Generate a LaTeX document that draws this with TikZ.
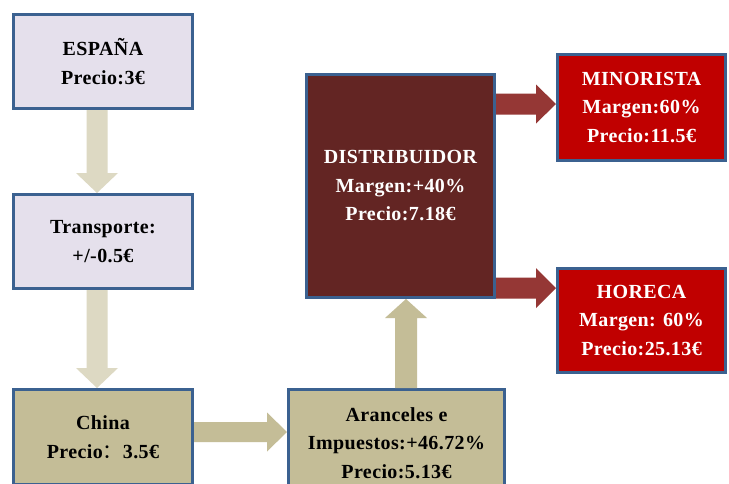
\documentclass[tikz,border=0pt]{standalone}
\usepackage{fontspec}
\setmainfont{Liberation Serif}[LetterSpace=2]
\newfontfamily\cjk{Noto Sans CJK SC}
\usetikzlibrary{calc}
\definecolor{bordc}{HTML}{3B6190}
\definecolor{lavfill}{HTML}{E5E0EC}
\definecolor{tanfill}{HTML}{C4BD97}
\definecolor{lighttan}{HTML}{DDD9C3}
\definecolor{darkred}{HTML}{632523}
\definecolor{brightred}{HTML}{C00000}
\definecolor{arrowred}{HTML}{953735}
\newcommand{\blockarrow}[6]{%
  \coordinate (ba) at ($(#3)!#6!(#2)$);
  \fill[#1] ($(#2)!#4!90:(#3)$) -- ($(ba)!#4!90:(#3)$) -- ($(ba)!#5!90:(#3)$) -- (#3)
    -- ($(ba)!#5!-90:(#3)$) -- ($(ba)!#4!-90:(#3)$) -- ($(#2)!#4!-90:(#3)$) -- cycle;}
\tikzset{
  box/.style={draw=bordc, line width=3pt, inner sep=0pt, align=center,
    font=\bfseries\fontsize{20}{28.5}\selectfont},
  lavbox/.style={box, fill=lavfill, text=black},
  tanbox/.style={box, fill=tanfill, text=black},
  darkbox/.style={box, fill=darkred, text=white},
  retailbox/.style={box, fill=brightred, text=white},
}
\begin{document}
\begin{tikzpicture}[x=1pt,y=-1pt]
\clip (0,0) rectangle (729,483);
\fill[white] (0,0) rectangle (729,483);
\node[lavbox, minimum width=179pt, minimum height=94pt] (esp) at (103,61.5) {ESPAÑA\\Precio:3€};
\node[lavbox, minimum width=179pt, minimum height=94pt] (tra) at (103,241.5) {Transporte:\\+/-0.5€};
\node[tanbox, minimum width=179pt, minimum height=95pt] (chi) at (103,437) {China\\Precio{\cjk\mdseries ：}3.5€};
\node[tanbox, minimum width=216pt, minimum height=107pt] (ara) at (396.5,443) {Aranceles e\\Impuestos:+46.72\%\\Precio:5.13€};
\node[darkbox, minimum width=188pt, minimum height=223pt] (dis) at (400.5,186) {DISTRIBUIDOR\\Margen:+40\%\\Precio:7.18€};
\node[retailbox, minimum width=168pt, minimum height=106pt] (min) at (641.5,107.5) {MINORISTA\\Margen:60\%\\Precio:11.5€};
\node[retailbox, minimum width=168pt, minimum height=104pt] (hor) at (641.5,320.5) {HORECA\\Margen: 60\%\\Precio:25.13€};
\coordinate (ax) at (97,0);
\coordinate (ay) at (0,432);
\coordinate (ux) at (406,0);
\coordinate (r1) at (0,104);
\coordinate (r2) at (0,288);
\coordinate (a1s) at (esp.south -| ax);
\coordinate (a1e) at (tra.north -| ax);
\coordinate (a2s) at (tra.south -| ax);
\coordinate (a2e) at (chi.north -| ax);
\coordinate (a3s) at (chi.east |- ay);
\coordinate (a3e) at (ara.west |- ay);
\coordinate (a4s) at (ara.north -| ux);
\coordinate (a4e) at (dis.south -| ux);
\coordinate (a5s) at (dis.east |- r1);
\coordinate (a5e) at (min.west |- r1);
\coordinate (a6s) at (dis.east |- r2);
\coordinate (a6e) at (hor.west |- r2);
\blockarrow{lighttan}{a1s}{a1e}{10.5pt}{21pt}{20pt}
\blockarrow{lighttan}{a2s}{a2e}{10.5pt}{21pt}{20pt}
\blockarrow{tanfill}{a3s}{a3e}{10pt}{19.5pt}{20pt}
\blockarrow{tanfill}{a4s}{a4e}{11pt}{21pt}{19pt}
\blockarrow{arrowred}{a5s}{a5e}{10.5pt}{19.5pt}{20pt}
\blockarrow{arrowred}{a6s}{a6e}{10.5pt}{20pt}{20pt}
\end{tikzpicture}
\end{document}
